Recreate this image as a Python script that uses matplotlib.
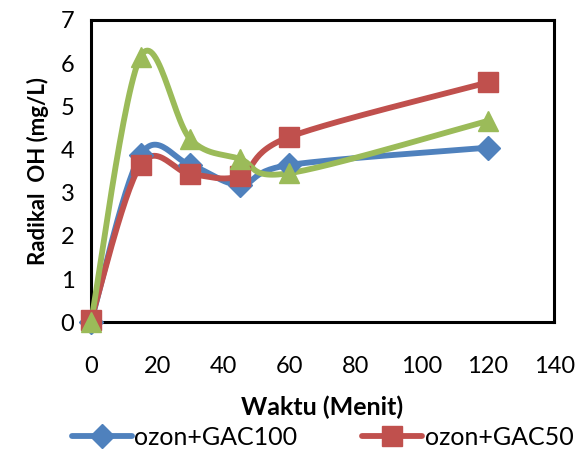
import numpy as np
import matplotlib
matplotlib.use('Agg')
import matplotlib.pyplot as plt
from matplotlib.lines import Line2D

# DATA
waktu = [0, 15, 30, 45, 60, 120]
gac100 = [0.0, 3.87, 3.64, 3.18, 3.64, 4.04]
gac50 = [0.05, 3.64, 3.43, 3.39, 4.29, 5.55]
gac25 = [0.0, 6.15, 4.24, 3.78, 3.45, 4.66]
labels = ['ozon+GAC100', 'ozon+GAC50', 'ozon+GAC25']
colors = ['#4F81BD', '#C0504D', '#9BBB59']
markers = ['D', 's', '^']

plt.rcParams['font.family'] = ['Lato', 'DejaVu Sans']

fig = plt.figure(figsize=(5.87, 4.5), dpi=100)
ax = fig.add_axes([0.155, 0.284, 0.789, 0.672])
ax.set_xlim(0, 140)
ax.set_ylim(0, 7)


## Excel-like smooth curve (bezier, tension 1/6) done in screen units
def smooth(x, y, sx=463/140, sy=302/7, n=30):
    px = np.array(x, float) * sx
    py = np.array(y, float) * sy
    px = np.concatenate([[px[0]], px, [px[-1]]])
    py = np.concatenate([[py[0]], py, [py[-1]]])
    outx, outy = [], []
    t = np.linspace(0, 1, n)
    for i in range(1, len(px) - 2):
        p0 = np.array([px[i], py[i]])
        p3 = np.array([px[i+1], py[i+1]])
        c1 = p0 + (p3 - np.array([px[i-1], py[i-1]])) / 6
        c2 = p3 - (np.array([px[i+2], py[i+2]]) - p0) / 6
        b = ((1-t)**3)[:, None]*p0 + (3*(1-t)**2*t)[:, None]*c1 \
            + (3*(1-t)*t**2)[:, None]*c2 + (t**3)[:, None]*p3
        outx.extend(b[:, 0]); outy.extend(b[:, 1])
    return np.array(outx) / sx, np.array(outy) / sy


handles = []
for ys, lab, c, m in zip([gac100, gac50, gac25], labels, colors, markers):
    sxs, sys_ = smooth(waktu, ys)
    ax.plot(sxs, sys_, color=c, lw=4.2, solid_capstyle='round', clip_on=False, zorder=3)
    ms = 12 if m == 'D' else 14
    ax.plot(waktu, ys, ls='none', marker=m, ms=ms, color=c, clip_on=False, zorder=4)
    handles.append(Line2D([], [], color=c, lw=4.2, marker=m, ms=ms, solid_capstyle='round'))

ax.set_xticks(np.arange(0, 141, 20))
ax.set_yticks(np.arange(0, 8, 1))
ax.tick_params(axis='both', length=0, labelsize=17)
ax.tick_params(axis='x', pad=24)
ax.tick_params(axis='y', pad=12)
for s in ax.spines.values():
    s.set_linewidth(2.2)

ax.set_xlabel('Waktu (Menit)', fontsize=18, fontweight='bold', labelpad=14)
ax.set_ylabel('Radikal  OH (mg/L)', fontsize=16, fontweight='bold', labelpad=8)

fig.legend(handles, labels, loc='center left', bbox_to_anchor=(0.105, 0.028),
           ncol=3, frameon=False, fontsize=18, handlelength=2.4,
           handletextpad=0.1, columnspacing=2.6, borderaxespad=0)

fig.savefig('out.png', dpi=100)
